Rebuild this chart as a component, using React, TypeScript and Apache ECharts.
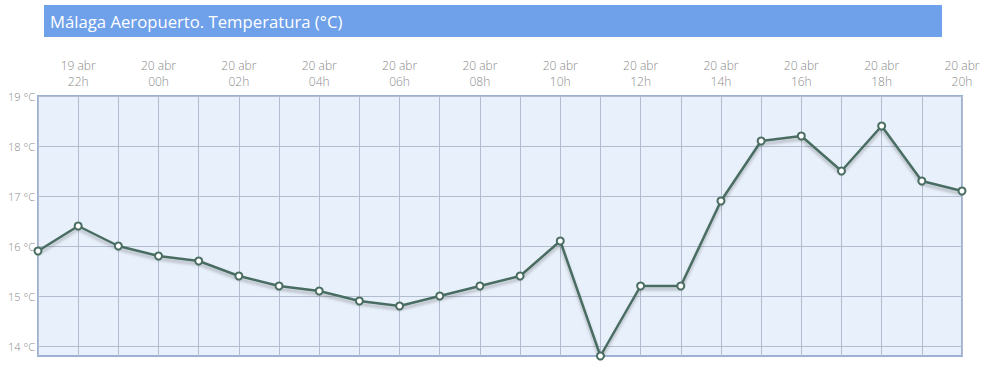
import React, { useEffect, useRef } from "react";
import * as echarts from "echarts";

const days = ["19 abr","19 abr","19 abr","20 abr","20 abr","20 abr","20 abr","20 abr","20 abr","20 abr","20 abr","20 abr","20 abr","20 abr","20 abr","20 abr","20 abr","20 abr","20 abr","20 abr","20 abr","20 abr","20 abr","20 abr"];
const hours = ["21h","22h","23h","00h","01h","02h","03h","04h","05h","06h","07h","08h","09h","10h","11h","12h","13h","14h","15h","16h","17h","18h","19h","20h"];
const temps = [15.9,16.4,16.0,15.8,15.7,15.4,15.2,15.1,14.9,14.8,15.0,15.2,15.4,16.1,13.8,15.2,15.2,16.9,18.1,18.2,17.5,18.4,17.3,17.1];
const title = "Málaga Aeropuerto. Temperatura (°C)";
const yMin = 13.8;
const yMax = 19;

export default function App() {
  const ref = useRef<HTMLDivElement>(null);
  useEffect(() => {
    if (!ref.current) return;
    const chart = echarts.init(ref.current, undefined, { renderer: "svg" });
    const cats = hours.map((h, i) => days[i] + "\n" + h);
    const grid = "#b3bdd0";
    chart.setOption({
      animation: false,
      textStyle: { fontFamily: "Open Sans" },
      graphic: [
        { type: "rect", shape: { x: 44, y: 5, width: 898, height: 32 }, style: { fill: "#6fa0ea" }, z: 10 },
        { type: "text", x: 50, y: 21, style: { text: title, fill: "#ffffff", fontSize: 16.7, fontFamily: "Open Sans", verticalAlign: "middle" }, z: 11 },
      ],
      grid: {
        left: 38, right: 27, top: 96, bottom: 20,
        show: true, backgroundColor: "#e8f0fb", borderColor: "#9cb1d1", borderWidth: 2,
      },
      xAxis: {
        type: "category",
        data: cats,
        position: "top",
        boundaryGap: false,
        axisLine: { show: false },
        axisTick: { show: false },
        axisLabel: {
          interval: 0,
          showMaxLabel: true,
          hideOverlap: false,
          margin: 7,
          color: "#8a8a8a",
          fontSize: 12,
          fontWeight: 300,
          lineHeight: 16,
          fontFamily: "Open Sans",
          formatter: (v: string, i: number) => (i % 2 === 1 ? v : ""),
        },
        splitLine: { show: true, interval: 0, lineStyle: { color: grid, width: 1 } },
      },
      yAxis: {
        type: "value",
        min: yMin,
        max: yMax,
        interval: 0.2,
        axisLine: { show: false },
        axisTick: { show: false },
        axisLabel: {
          margin: 3,
          color: "#8a8a8a",
          fontSize: 11,
          fontWeight: 300,
          fontFamily: "Open Sans",
          formatter: (v: number) => (Math.abs(v - Math.round(v)) < 1e-6 ? Math.round(v) + " °C" : ""),
        },
        splitLine: {
          show: true,
          lineStyle: { color: ["rgba(0,0,0,0)", grid, "rgba(0,0,0,0)", "rgba(0,0,0,0)", "rgba(0,0,0,0)"], width: 1 },
        },
      },
      series: [
        {
          type: "line",
          data: temps,
          symbol: "circle",
          symbolSize: 7,
          showAllSymbol: true,
          lineStyle: { color: "#4a6d62", width: 2.5, shadowColor: "rgba(0,0,0,0.25)", shadowBlur: 3, shadowOffsetY: 3 },
          itemStyle: { color: "#ffffff", borderColor: "#4a6d62", borderWidth: 2 },
          z: 5,
        },
      ],
    });
    return () => chart.dispose();
  }, []);
  return <div ref={ref} style={{ width: 989, height: 376, position: "absolute", left: 0, top: 0 }} />;
}
